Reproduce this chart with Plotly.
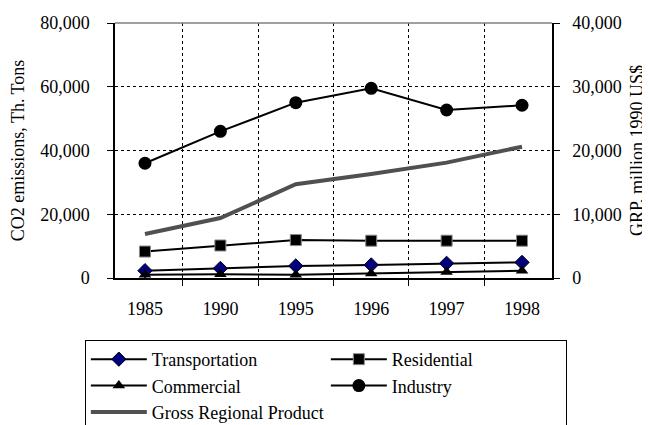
import plotly.graph_objects as go

years = ["1985", "1990", "1995", "1996", "1997", "1998"]
transportation = [2300, 3000, 3800, 4100, 4600, 4900]
residential = [8300, 10200, 11900, 11700, 11700, 11700]
commercial = [1000, 1200, 1000, 1400, 1900, 2300]
industry = [36000, 46000, 55000, 59500, 52700, 54200]
grp = [6900, 9400, 14700, 16300, 18100, 20600]

SERIF = "Liberation Serif"
BLACK = "#000000"
FONT = {"family": SERIF, "color": BLACK, "size": 18}

fig = go.Figure()
fig.add_trace(go.Scatter(
    x=years, y=transportation, name="Transportation", mode="lines+markers",
    line={"color": BLACK, "width": 2},
    marker={"symbol": "diamond", "size": 11, "color": "#000080", "line": {"color": BLACK, "width": 1}},
))
fig.add_trace(go.Scatter(
    x=years, y=residential, name="Residential", mode="lines+markers",
    line={"color": BLACK, "width": 2},
    marker={"symbol": "square", "size": 11, "color": BLACK, "line": {"color": "#888888", "width": 1}},
))
fig.add_trace(go.Scatter(
    x=years, y=commercial, name="Commercial", mode="lines+markers",
    line={"color": BLACK, "width": 2},
    marker={"symbol": "triangle-up", "size": 11, "color": BLACK},
))
fig.add_trace(go.Scatter(
    x=years, y=industry, name="Industry", mode="lines+markers",
    line={"color": BLACK, "width": 2},
    marker={"symbol": "circle", "size": 13, "color": BLACK},
))
fig.add_trace(go.Scatter(
    x=years, y=grp, name="Gross Regional Product", mode="lines", yaxis="y2",
    line={"color": "#505050", "width": 4},
))

# gray top border of the plot area
fig.add_shape(type="line", xref="paper", yref="paper", x0=0, x1=1, y0=1, y1=1,
              line={"color": "#808080", "width": 1.5})

# page body adds an 8px margin, so the figure is 8px smaller and shifted
fig.update_layout(
    width=642, height=417,
    paper_bgcolor="white", plot_bgcolor="white",
    font=FONT,
    margin={"l": 107, "r": 98, "t": 15, "b": 147, "autoexpand": False},
    showlegend=True,
    xaxis={
        "type": "category", "tickson": "boundaries",
        "showgrid": True, "gridcolor": BLACK, "griddash": "dot", "gridwidth": 1,
        "showline": True, "linecolor": BLACK, "linewidth": 1.5,
        "ticks": "outside", "ticklen": 6, "tickcolor": BLACK,
        "ticklabelstandoff": 14, "tickfont": FONT,
    },
    yaxis={
        "range": [0, 80000], "dtick": 20000, "tickformat": ",",
        "showgrid": True, "gridcolor": BLACK, "griddash": "dot", "gridwidth": 1,
        "zeroline": False, "showline": True, "linecolor": BLACK, "linewidth": 1.5,
        "ticks": "outside", "ticklen": 6, "tickcolor": BLACK,
        "ticklabelstandoff": 14, "tickfont": FONT,
        "title": {"text": "CO2 emissions, Th. Tons", "standoff": 12, "font": FONT},
    },
    yaxis2={
        "range": [0, 40000], "dtick": 10000, "tickformat": ",",
        "overlaying": "y", "side": "right", "showgrid": False, "zeroline": False,
        "showline": True, "linecolor": BLACK, "linewidth": 1.5,
        "ticks": "outside", "ticklen": 6, "tickcolor": BLACK,
        "ticklabelstandoff": 9, "tickfont": FONT,
        "title": {"text": "GRP, million 1990 US$", "standoff": 10, "font": FONT},
    },
    legend={
        "orientation": "h", "x": -0.069, "xanchor": "left", "y": -0.243, "yanchor": "top",
        "bordercolor": BLACK, "borderwidth": 1, "bgcolor": "white",
        "itemwidth": 56, "entrywidth": 169, "entrywidthmode": "pixels",
        "font": FONT,
    },
)

fig.write_html("out.html")
